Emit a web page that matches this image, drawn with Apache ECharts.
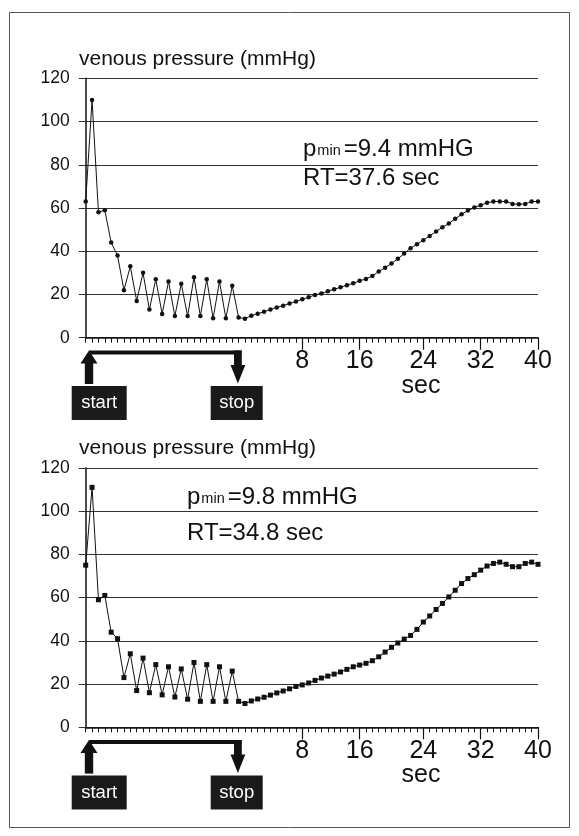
<!DOCTYPE html>
<html>
<head>
<meta charset="utf-8">
<script src="https://cdn.jsdelivr.net/npm/echarts@6/dist/echarts.min.js"></script>
<style>
  html, body { margin: 0; padding: 0; background: #fff; }
  #chart { width: 579px; height: 836px; }
</style>
</head>
<body>
<div id="chart"></div>
<script>
// samples, one per tick on the time axis (stop is at sample 24)
var sampleCount = 72;
var majorIndex = [34, 43, 53, 62, 71];
var majorLabels = ["8", "16", "24", "32", "40"];
var yTicks = [0, 20, 40, 60, 80, 100, 120];

// top trace (circles)
var pressureA = [
  63, 110, 58, 59, 44, 38, 22, 33, 17, 30, 13, 27, 11, 26, 10, 25, 10, 28, 10, 27, 9, 26, 9, 24,
  9.4, 8.8, 10.2, 11.1, 12, 13, 14, 14.8, 15.8, 16.7, 17.8, 18.7, 19.8, 20.5, 21.5, 22.4, 23.3,
  24.3, 25.2, 26.3, 27.2, 28.6, 30.6, 32.4, 34.3, 36.5,
  39, 41.4, 43.2, 45.1, 47.1, 49.1, 51.1, 52.8, 55, 57.1, 58.8, 60.2, 61.3, 62.4, 63, 63, 63,
  61.9, 61.7, 61.9, 63, 63
];
// bottom trace (squares)
var pressureB = [
  75, 111, 59, 61, 44, 41, 23, 34, 17, 32, 16, 29, 15, 28, 14, 27, 13, 30, 12, 29, 12, 28, 12, 26,
  12, 11, 12.2, 13.1, 13.9, 14.9, 15.9, 16.8, 17.8, 18.9, 19.6, 20.5, 21.7, 22.8, 23.7, 24.6,
  25.6, 26.8, 28, 28.8, 29.6, 30.8, 32.6, 34.8, 37, 39,
  40.8, 42.5, 45.3, 48.7, 51.5, 54.5, 57.3, 60.3, 63.4, 66.5, 68.8, 70.6, 72.7, 74.6, 75.8, 76.4,
  75.4, 74.3, 74.3, 75.8, 76.4, 75.4
];
var pminTexts = ["=9.4 mmHG", "=9.8 mmHG"];
var rtTexts = ["RT=37.6 sec", "RT=34.8 sec"];

var font = '"Liberation Sans", Arial, Helvetica, sans-serif';
var ink = "#111";

var categories = [];
for (var i = 0; i < sampleCount; i++) categories.push(String(i));

var chart = echarts.init(document.getElementById("chart"));

function isMajor(idx) {
  return majorIndex.indexOf(idx) >= 0;
}

// 两个图上下排列，第二个整体下移
var gap = 389.6;
var grids = [], xAxes = [], yAxes = [], series = [], graphics = [];

[pressureA, pressureB].forEach(function (vals, k) {
  var dy = k * gap;
  grids.push({ left: 85.7, top: 78.3 + dy, width: 452.3, height: 259.4 });

  // 小刻度：每个采样点一个
  xAxes.push({
    gridIndex: k,
    type: "category",
    position: "bottom",
    data: categories,
    boundaryGap: false,
    axisLine: { lineStyle: { color: ink, width: 1.5 } },
    axisTick: { interval: 0, length: 5, lineStyle: { color: ink, width: 1 } },
    axisLabel: { show: false },
    splitLine: { show: false }
  });
  // 大刻度和秒数标签
  xAxes.push({
    gridIndex: k,
    type: "category",
    position: "bottom",
    offset: 0,
    data: categories,
    boundaryGap: false,
    axisLine: { show: false },
    axisTick: {
      interval: function (idx) { return isMajor(idx); },
      length: 12,
      lineStyle: { color: ink, width: 1.2 }
    },
    axisLabel: {
      interval: function (idx) { return isMajor(idx); },
      formatter: function (v, idx) {
        var j = majorIndex.indexOf(idx);
        return j >= 0 ? majorLabels[j] : "";
      },
      fontFamily: font,
      fontSize: 25,
      color: ink,
      margin: 11
    },
    splitLine: { show: false }
  });

  yAxes.push({
    gridIndex: k,
    type: "value",
    min: yTicks[0],
    max: yTicks[yTicks.length - 1],
    interval: 20,
    axisLine: { show: true, lineStyle: { color: ink, width: 1.5 } },
    axisTick: { show: true, length: 7, lineStyle: { color: "#333", width: 1 } },
    axisLabel: { fontFamily: font, fontSize: 17.5, color: ink, margin: 16 },
    splitLine: { lineStyle: { color: "#333", width: 1 } }
  });

  series.push({
    type: "line",
    xAxisIndex: k * 2,
    yAxisIndex: k,
    data: vals,
    symbol: k === 0 ? "circle" : "rect",
    symbolSize: k === 0 ? 4.5 : 5,
    showSymbol: true,
    showAllSymbol: true,
    itemStyle: { color: ink },
    lineStyle: { color: ink, width: 1 },
    animation: false
  });

  // 纵轴名称
  graphics.push({
    type: "text",
    style: { text: "venous pressure (mmHg)", x: 79, y: 59 + dy, fontFamily: font, fontSize: 21, fill: ink, textVerticalAlign: "middle" }
  });
  // 横轴名称
  graphics.push({
    type: "text",
    style: { text: "sec", x: 421, y: 386 + dy, fontFamily: font, fontSize: 25, fill: ink, textAlign: "center", textVerticalAlign: "middle" }
  });

  // p_min 和 RT 注释
  var ax = k === 0 ? 303 : 187;
  var py = k === 0 ? 148 : 496;
  var ry = k === 0 ? 178 : 533;
  graphics.push({
    type: "text",
    style: {
      text: "{a|p}{b|min}{a|" + pminTexts[k] + "}",
      x: ax, y: py,
      textVerticalAlign: "middle",
      rich: {
        a: { fontFamily: font, fontSize: 24, fill: ink, color: ink, verticalAlign: "bottom", lineHeight: 27 },
        b: { fontFamily: font, fontSize: 14.5, fill: ink, color: ink, verticalAlign: "bottom", lineHeight: 27, padding: [0, 3, 3, 1] }
      }
    }
  });
  graphics.push({
    type: "text",
    style: { text: rtTexts[k], x: ax, y: ry, fontFamily: font, fontSize: 24, fill: ink, textVerticalAlign: "middle" }
  });

  // start / stop 箭头
  graphics.push({ type: "rect", shape: { x: 89, y: 350.5 + dy, width: 152.5, height: 4 }, style: { fill: ink } });
  graphics.push({ type: "rect", shape: { x: 84.8, y: 362 + dy, width: 8.4, height: 22 }, style: { fill: ink } });
  graphics.push({ type: "polygon", shape: { points: [[80.5, 363.5 + dy], [97.5, 363.5 + dy], [89, 350.5 + dy]] }, style: { fill: ink } });
  graphics.push({ type: "rect", shape: { x: 234, y: 350.5 + dy, width: 7.8, height: 15 }, style: { fill: ink } });
  graphics.push({ type: "polygon", shape: { points: [[230.5, 365 + dy], [245.3, 365 + dy], [237.9, 383.5 + dy]] }, style: { fill: ink } });

  graphics.push({ type: "rect", shape: { x: 71.7, y: 386 + dy, width: 55, height: 34 }, style: { fill: "#1a1a1a" } });
  graphics.push({
    type: "text",
    style: { text: "start", x: 99.2, y: 403 + dy, fontFamily: font, fontSize: 18.5, fill: "#fff", textAlign: "center", textVerticalAlign: "middle" }
  });
  graphics.push({ type: "rect", shape: { x: 210.7, y: 386 + dy, width: 52, height: 34 }, style: { fill: "#1a1a1a" } });
  graphics.push({
    type: "text",
    style: { text: "stop", x: 236.7, y: 403 + dy, fontFamily: font, fontSize: 18.5, fill: "#fff", textAlign: "center", textVerticalAlign: "middle" }
  });
});

// 外框
graphics.push({
  type: "rect",
  shape: { x: 9.5, y: 12.5, width: 560, height: 815 },
  style: { fill: null, stroke: "#555", lineWidth: 1 },
  z: -1
});

var option = {
  backgroundColor: "#fff",
  animation: false,
  grid: grids,
  xAxis: xAxes,
  yAxis: yAxes,
  series: series,
  graphic: graphics
};

chart.setOption(option);
</script>
</body>
</html>
